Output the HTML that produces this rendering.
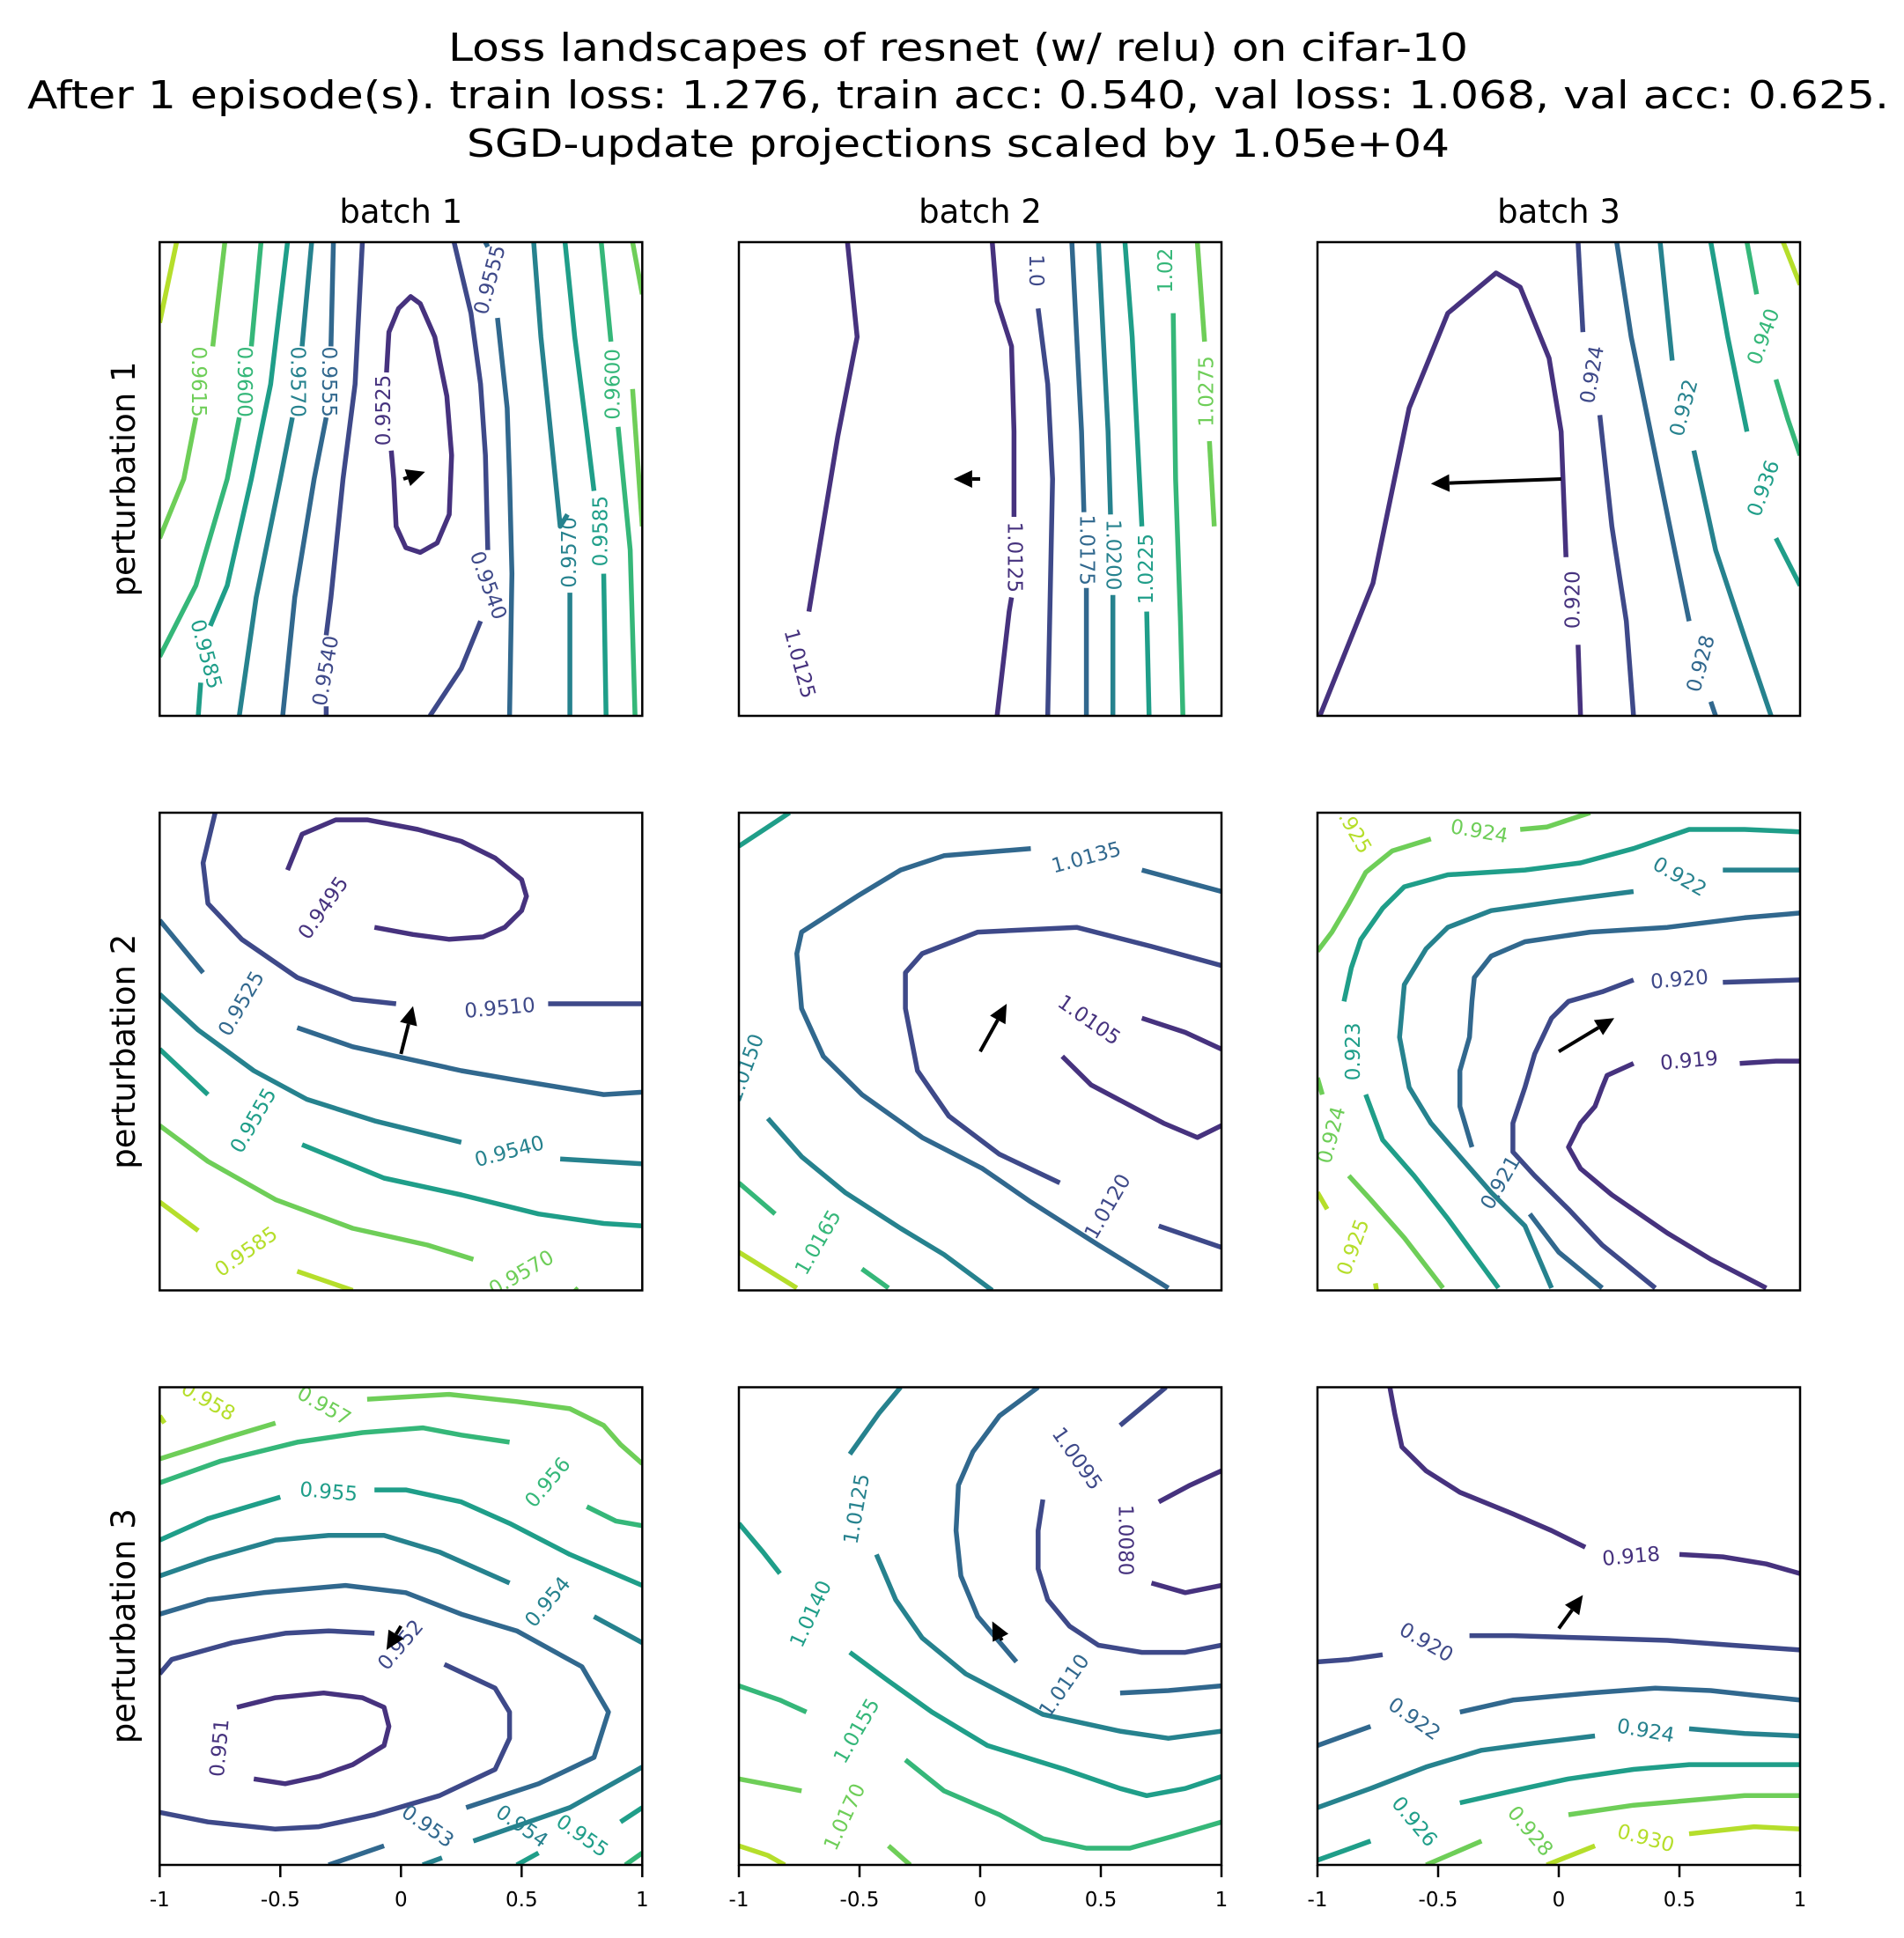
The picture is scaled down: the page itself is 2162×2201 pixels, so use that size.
<!DOCTYPE html>
<html><head><meta charset="utf-8"><style>
html,body{margin:0;padding:0;background:#fff;}
svg{display:block;font-family:"DejaVu Sans","Liberation Sans",sans-serif;}
</style></head><body>
<svg id="fig" width="2162" height="2201" viewBox="0 0 2162 2201" xmlns="http://www.w3.org/2000/svg">
<rect x="0" y="0" width="2162" height="2201" fill="#fff"/>
<g font-size="44" text-anchor="middle" fill="#000">
<text x="1088" y="69" textLength="1158" lengthAdjust="spacingAndGlyphs">Loss landscapes of resnet (w/ relu) on cifar-10</text>
<text x="1088" y="123" textLength="2114" lengthAdjust="spacingAndGlyphs">After 1 episode(s). train loss: 1.276, train acc: 0.540, val loss: 1.068, val acc: 0.625.</text>
<text x="1088" y="178" textLength="1116" lengthAdjust="spacingAndGlyphs">SGD-update projections scaled by 1.05e+04</text>
</g>
</svg>
<script>
const palette = ['#46327e','#3e4989','#31688e','#26828e','#1f9e89','#35b779','#6ece58','#b5de2b'];
const colTitles = ['batch 1','batch 2','batch 3'];
const rowTitles = ['perturbation 1','perturbation 2','perturbation 3'];
const xTicks = [-1,-0.5,0,0.5,1];
const xTickLabels = ['-1','-0.5','0','0.5','1'];

const lines11 = [
[7,-0.93,1,-1,0.66],
[6,-0.73,1,-0.78,0.56],[6,-0.85,0.26,-0.9,0,-1,-0.25],
[5,-0.58,1,-0.62,0.56],[5,-0.67,0.26,-0.72,0,-0.85,-0.45,-1,-0.75],
[4,-0.47,1,-0.54,0.4,-0.62,0,-0.72,-0.45,-0.79,-0.62],[4,-0.83,-0.86,-0.84,-1],
[3,-0.37,1,-0.41,0.56],[3,-0.45,0.26,-0.5,0,-0.6,-0.5,-0.67,-1],
[2,-0.28,1,-0.29,0.56],[2,-0.31,0.26,-0.36,0,-0.44,-0.5,-0.49,-1],
[1,-0.16,1,-0.19,0.4,-0.24,0,-0.29,-0.5,-0.31,-0.66],[1,-0.31,-0.96,-0.31,-1],
[0,-0.06,0.45,-0.05,0.62,-0.01,0.72,0.04,0.77,0.08,0.74,0.14,0.6,0.19,0.35,0.21,0.1,0.2,-0.15,0.15,-0.27,0.08,-0.31,0.02,-0.29,-0.02,-0.2,-0.03,0.0,-0.04,0.12],
[1,0.22,1,0.29,0.7,0.33,0.4,0.35,0.1,0.36,-0.3],[1,0.33,-0.6,0.25,-0.8,0.12,-1],
[2,0.35,1,0.36,0.98],[2,0.40,0.68,0.44,0.3,0.45,0,0.46,-0.4,0.45,-1],
[3,0.55,1,0.58,0.6,0.62,0.2,0.66,-0.2,0.69,-0.15],[3,0.70,-0.48,0.70,-1],
[4,0.68,1,0.72,0.6,0.77,0.2,0.8,-0.05],[4,0.84,-0.4,0.85,-1],
[5,0.83,1,0.87,0.58],[5,0.9,0.22,0.95,-0.3,0.97,-1],
[6,0.96,1,1,0.78],[6,0.96,0.38,1,-0.2]
];
const labels11 = [[-0.84,0.41,'0.9615',90,6],[-0.65,0.41,'0.9600',90,5],[-0.43,0.41,'0.9570',90,3],[-0.30,0.41,'0.9555',90,2],
[-0.07,0.29,'0.9525',-90,0],[0.37,0.84,'0.9555',-75,1],[0.36,-0.45,'0.9540',70,1],[0.70,-0.31,'0.9570',-90,3],[0.83,-0.22,'0.9585',-90,4],
[0.88,0.40,'0.9600',-90,5],[-0.81,-0.74,'0.9585',75,4],[-0.31,-0.81,'0.9540',-80,1]];
const arrow11 = [0.01,0.0,0.10,0.03];

const lines12 = [
[0,-0.55,1,-0.51,0.6,-0.59,0.18,-0.66,-0.25,-0.71,-0.56],
[0,0.05,1,0.07,0.75,0.13,0.56,0.14,0.2,0.14,-0.16],[0,0.13,-0.5,0.12,-0.56,0.07,-1],
[1,0.24,0.72,0.28,0.4,0.30,0,0.28,-1],
[2,0.38,1,0.40,0.6,0.42,0.2,0.43,-0.14],[2,0.44,-0.46,0.44,-1],
[3,0.49,1,0.51,0.6,0.53,0.2,0.54,-0.15],[3,0.55,-0.49,0.55,-1],
[4,0.60,1,0.63,0.6,0.65,0.2,0.67,-0.2],[4,0.69,-0.56,0.70,-1],
[5,0.80,0.7,0.81,0,0.83,-0.6,0.84,-1],
[6,0.90,1,0.93,0.58],[6,0.95,0.16,0.97,-0.2]
];
const labels12 = [[-0.75,-0.78,'1.0125',75,0],[0.14,-0.33,'1.0125',90,0],[0.23,0.88,'1.0',90,1],[0.44,-0.30,'1.0175',90,2],
[0.55,-0.32,'1.0200',90,3],[0.69,-0.38,'1.0225',-90,4],[0.77,0.88,'1.02',-90,5],[0.94,0.37,'1.0275',-90,6]];
const arrow12 = [0,0,-0.11,0];

const lines13 = [
[0,-0.99,-1,-0.77,-0.44,-0.62,0.30,-0.46,0.70,-0.26,0.87,-0.16,0.81,-0.04,0.51,0.01,0.20,0.03,-0.33],[0,0.08,-0.70,0.09,-1],
[1,0.08,1,0.10,0.62],[1,0.17,0.27,0.22,-0.2,0.28,-0.6,0.31,-1],
[2,0.24,1,0.30,0.6,0.38,0.2,0.46,-0.2,0.54,-0.6],[2,0.63,-0.94,0.65,-1],
[3,0.42,1,0.47,0.5],[3,0.56,0.12,0.65,-0.3,0.78,-0.7,0.88,-1],
[4,0.63,1,0.70,0.6,0.78,0.2],[4,0.90,-0.25,1,-0.45],
[5,0.78,1,0.82,0.78],[5,0.9,0.42,0.95,0.25,1,0.1],
[7,0.93,1,1,0.82]
];
const labels13 = [[0.06,-0.51,'0.920',-90,0],[0.14,0.44,'0.924',-80,1],[0.59,-0.78,'0.928',-75,2],[0.52,0.30,'0.932',-75,3],
[0.85,-0.04,'0.936',-70,4],[0.85,0.60,'0.940',-70,5]];
const arrow13 = [0.01,0.0,-0.53,-0.02];

const lines21 = [
[0,-0.47,0.76,-0.41,0.91,-0.27,0.97,-0.14,0.97,0.07,0.93,0.25,0.88,0.39,0.81,0.50,0.72,0.52,0.65,0.50,0.59,0.43,0.52,0.34,0.48,0.20,0.47,0.05,0.49,-0.11,0.52],
[1,-0.77,1,-0.82,0.79,-0.80,0.62,-0.66,0.47,-0.43,0.31,-0.20,0.22,-0.02,0.20],[1,0.61,0.20,1,0.20],
[2,-1,0.55,-0.82,0.33],[2,-0.43,0.10,-0.2,0.02,0.25,-0.08,0.48,-0.12,0.84,-0.18,1,-0.17],
[3,-1,0.24,-0.84,0.09,-0.61,-0.08,-0.39,-0.20,-0.11,-0.29,0.25,-0.38],[3,0.66,-0.45,1,-0.47],
[4,-1,0.01,-0.80,-0.18],[4,-0.41,-0.39,-0.07,-0.53,0.25,-0.60,0.57,-0.68,0.84,-0.72,1,-0.73],
[6,-1,-0.31,-0.80,-0.46,-0.52,-0.62,-0.20,-0.74,0.11,-0.81,0.30,-0.87],[6,0.72,-0.99,0.73,-1],
[7,-1,-0.63,-0.84,-0.75],[7,-0.43,-0.92,-0.2,-1]
];
const labels21 = [[-0.32,0.60,'0.9495',-55,0],[0.41,0.18,'0.9510',-5,1],[-0.66,0.20,'0.9525',-60,2],[0.45,-0.42,'0.9540',-15,3],
[-0.61,-0.29,'0.9555',-60,4],[0.5,-0.93,'0.9570',-30,6],[-0.64,-0.84,'0.9585',-35,7]];
const arrow21 = [0,-0.01,0.05,0.19];

const lines22 = [
[4,-1,0.86,-0.79,1],
[0,0.67,0.14,0.85,0.08,1,0.01],[0,0.34,-0.02,0.46,-0.14,0.76,-0.30,0.90,-0.36,1,-0.31],
[1,1,0.36,0.71,0.44,0.40,0.52,-0.01,0.50,-0.24,0.41,-0.31,0.33,-0.31,0.18,-0.26,-0.08,-0.13,-0.27,0.08,-0.43,0.33,-0.55],[1,0.74,-0.73,1,-0.82],
[2,1,0.67,0.67,0.76],[2,0.21,0.85,-0.15,0.82,-0.33,0.76,-0.51,0.65,-0.74,0.50,-0.76,0.41,-0.74,0.18,-0.65,-0.02,-0.49,-0.18,-0.24,-0.36,0.01,-0.49,0.21,-0.63,0.49,-0.81,0.78,-0.99],
[3,-0.88,-0.28,-0.74,-0.44,-0.56,-0.59,-0.33,-0.74,-0.15,-0.85,0.05,-1],
[5,-1,-0.55,-0.85,-0.68],[5,-0.49,-0.91,-0.38,-0.99],
[7,-1,-0.84,-0.76,-0.99]
];
const labels22 = [[0.45,0.13,'1.0105',35,0],[0.53,-0.65,'1.0120',-60,1],[0.44,0.81,'1.0135',-15,2],[-0.97,-0.07,'1.0150',-70,3],[-0.67,-0.80,'1.0165',-60,5]];
const arrow22 = [0,0,0.11,0.20];

const lines23 = [
[0,1,-0.04,0.90,-0.04,0.75,-0.05],[0,0.31,-0.05,0.20,-0.10,0.18,-0.15,0.15,-0.23,0.09,-0.30,0.04,-0.40,0.09,-0.49,0.22,-0.60,0.45,-0.76,0.63,-0.87,0.86,-0.99],
[1,1,0.30,0.68,0.29],[1,0.31,0.30,0.18,0.25,0.04,0.21,-0.03,0.14,-0.10,-0.01,-0.14,-0.15,-0.19,-0.30,-0.19,-0.42,-0.10,-0.52,0.04,-0.66,0.18,-0.81,0.40,-0.99],
[2,1,0.58,0.77,0.56,0.45,0.52,0.13,0.50,-0.14,0.46,-0.28,0.40,-0.35,0.31,-0.36,0.21,-0.37,0.06,-0.41,-0.08,-0.41,-0.23,-0.36,-0.40],[2,-0.12,-0.68,0,-0.84,0.18,-0.99],
[3,1,0.76,0.68,0.76],[3,0.31,0.67,0,0.63,-0.28,0.59,-0.46,0.52,-0.55,0.43,-0.64,0.28,-0.66,0.06,-0.62,-0.15,-0.53,-0.30,-0.41,-0.44,-0.28,-0.59,-0.14,-0.73,-0.03,-0.99],
[4,1,0.92,0.77,0.93,0.54,0.93,0.31,0.85,0.09,0.79,-0.14,0.76,-0.46,0.74,-0.64,0.69,-0.73,0.60,-0.82,0.47,-0.86,0.35,-0.89,0.21],[4,-0.80,-0.18,-0.73,-0.37,-0.60,-0.52,-0.46,-0.70,-0.25,-0.99],
[6,0.13,1,-0.05,0.94,-0.16,0.93],[6,-0.53,0.89,-0.69,0.84,-0.80,0.75,-0.87,0.62,-0.94,0.50,-1,0.42],[6,-1,-0.11,-0.98,-0.18],[6,-0.87,-0.52,-0.78,-0.62,-0.64,-0.78,-0.48,-0.99],
[7,-1,-0.59,-0.96,-0.66],[7,-0.76,-0.97,-0.755,-1]
];
const labels23 = [[0.54,-0.04,'0.919',-5,0],[0.50,0.30,'0.920',-5,1],[-0.24,-0.55,'0.921',-60,2],[0.50,0.73,'0.922',30,3],
[-0.85,0.0,'0.923',-90,4],[-0.33,0.92,'0.924',10,6],[-0.94,-0.35,'0.924',-75,6],[-0.86,0.94,'0.925',60,7],[-0.85,-0.82,'0.925',-70,7]];
const arrow23 = [0,0,0.23,0.14];

const lines31 = [
[0,-0.68,-0.34,-0.52,-0.30,-0.32,-0.28,-0.16,-0.30,-0.07,-0.34,-0.05,-0.42,-0.07,-0.50,-0.20,-0.58,-0.34,-0.63,-0.48,-0.66,-0.61,-0.64],
[1,-0.11,-0.03,-0.30,-0.02,-0.48,-0.03,-0.70,-0.07,-0.95,-0.14,-1,-0.20],[1,-1,-0.78,-0.80,-0.82,-0.52,-0.85,-0.34,-0.84,-0.11,-0.79,0.16,-0.71,0.39,-0.60,0.45,-0.47,0.45,-0.36,0.39,-0.26,0.18,-0.16],
[2,-1,0.05,-0.80,0.11,-0.57,0.14,-0.23,0.17,0.02,0.14,0.25,0.05,0.48,-0.02,0.75,-0.17,0.86,-0.36,0.80,-0.55,0.57,-0.66,0.27,-0.76],[2,-0.07,-0.92,-0.30,-1],
[3,-1,0.21,-0.80,0.28,-0.52,0.36,-0.30,0.38,-0.07,0.38,0.16,0.31,0.45,0.18],[3,0.80,0.04,1,-0.07],[3,1,-0.59,0.70,-0.76,0.30,-0.90],[3,0.17,-0.97,0.09,-1],
[4,-1,0.36,-0.80,0.45,-0.50,0.54],[4,-0.11,0.57,0.02,0.57,0.25,0.52,0.45,0.43,0.70,0.30,1,0.17],[4,1,-0.76,0.91,-0.82],[4,0.57,-0.95,0.48,-1],
[5,-1,0.60,-0.75,0.69,-0.43,0.77,-0.16,0.81,0.09,0.83,0.25,0.80,0.45,0.77],[5,0.77,0.50,0.89,0.44,1,0.42],[5,1,-0.95,0.93,-1],
[6,-1,0.70,-0.75,0.78,-0.52,0.85],[6,-0.14,0.95,0.20,0.97,0.48,0.94,0.70,0.91,0.84,0.84,0.91,0.76,1,0.68],
[7,-1,0.88,-0.98,0.85]
];
const labels31 = [[-0.80,0.94,'0.958',30,7],[-0.32,0.92,'0.957',30,6],[-0.30,0.56,'0.955',5,4],[0.61,0.60,'0.956',-50,5],
[0.61,0.10,'0.954',-50,3],[0.0,-0.08,'0.952',-50,1],[-0.75,-0.51,'0.951',-85,0],[0.11,-0.84,'0.953',35,2],[0.5,-0.84,'0.954',35,3],[0.75,-0.88,'0.955',35,4]];
const arrow31 = [0.0,0.0,-0.06,-0.10];

const lines32 = [
[0,1,0.65,0.87,0.59,0.74,0.52],[0,0.71,0.18,0.85,0.14,1,0.17],
[1,0.77,1,0.58,0.84],[1,0.26,0.53,0.24,0.40,0.24,0.24,0.28,0.11,0.37,0,0.49,-0.08,0.67,-0.11,0.85,-0.11,1,-0.08],
[2,0.24,1,0.08,0.88,-0.03,0.73,-0.09,0.59,-0.10,0.40,-0.08,0.21,-0.01,0.04,0.15,-0.15],[2,0.58,-0.28,0.78,-0.27,1,-0.25],
[3,-0.33,1,-0.42,0.89,-0.54,0.72],[3,-0.43,0.30,-0.35,0.11,-0.24,-0.05,-0.06,-0.20,0.26,-0.37,0.58,-0.44,0.78,-0.47,1,-0.44],
[4,-1,0.43,-0.90,0.31,-0.83,0.22],[4,-0.54,-0.11,-0.38,-0.23,-0.20,-0.36,0.03,-0.50,0.35,-0.60,0.58,-0.68,0.69,-0.71,0.85,-0.68,1,-0.63],
[5,-1,-0.25,-0.83,-0.31,-0.72,-0.36],[5,-0.31,-0.56,-0.15,-0.69,0.08,-0.79,0.26,-0.89,0.44,-0.93,0.62,-0.93,0.80,-0.88,1,-0.82],
[6,-1,-0.64,-0.74,-0.69],[6,-0.38,-0.92,-0.29,-1],
[7,-1,-0.92,-0.88,-0.96,-0.81,-1]
];
const labels32 = [[0.40,0.70,'1.0095',55,1],[0.60,0.36,'1.0080',90,0],[-0.51,0.49,'1.0125',-80,3],[-0.70,0.05,'1.0140',-65,4],
[0.35,-0.25,'1.0110',-55,2],[-0.51,-0.44,'1.0155',-60,5],[-0.56,-0.80,'1.0170',-65,6]];
const arrow32 = [0.09,-0.06,0.05,0.02];

const lines33 = [
[0,-0.70,1,-0.68,0.89,-0.65,0.75,-0.55,0.65,-0.41,0.56,-0.19,0.47,-0.03,0.40,0.11,0.33],[0,0.50,0.30,0.68,0.29,0.86,0.26,1,0.22],
[1,-1,-0.15,-0.87,-0.14,-0.73,-0.12],[1,-0.37,-0.04,-0.19,-0.04,0.13,-0.05,0.45,-0.06,0.72,-0.08,1,-0.10],
[2,-1,-0.50,-0.78,-0.42],[2,-0.41,-0.36,-0.19,-0.31,0.13,-0.28,0.40,-0.26,0.63,-0.27,0.81,-0.29,1,-0.31],
[3,-1,-0.76,-0.78,-0.68,-0.55,-0.59,-0.32,-0.52,-0.10,-0.49,0.15,-0.46],[3,0.54,-0.43,0.77,-0.45,1,-0.46],
[4,-1,-0.98,-0.78,-0.90],[4,-0.41,-0.74,-0.19,-0.69,0.04,-0.64,0.31,-0.60,0.54,-0.58,1,-0.58],
[6,-0.55,-1,-0.32,-0.90],[6,0.04,-0.79,0.31,-0.75,0.54,-0.73,0.77,-0.71,1,-0.71],
[7,-0.05,-1,0.15,-0.92],[7,0.54,-0.87,0.81,-0.84,1,-0.85]
];
const labels33 = [[0.30,0.29,'0.918',-5,0],[-0.55,-0.07,'0.920',30,1],[-0.60,-0.39,'0.922',35,2],[0.36,-0.44,'0.924',10,3],
[-0.60,-0.82,'0.926',50,4],[-0.12,-0.86,'0.928',50,6],[0.36,-0.89,'0.930',15,7]];
const arrow33 = [0,-0.01,0.10,0.13];

const panels = [
[lines11,labels11,arrow11],[lines12,labels12,arrow12],[lines13,labels13,arrow13],
[lines21,labels21,arrow21],[lines22,labels22,arrow22],[lines23,labels23,arrow23],
[lines31,labels31,arrow31],[lines32,labels32,arrow32],[lines33,labels33,arrow33]];

const NS='http://www.w3.org/2000/svg';
const svg=document.getElementById('fig');
const X0=[181.3,839,1496], W=548;
const Y0=[275,923,1575.5], HS=[538,542.5,542.5];
function sx(c,x){return X0[c]+(x+1)/2*W;}
function sy(r,y){return Y0[r]+(1-y)/2*HS[r];}
function mk(tag,attrs,parent){const e=document.createElementNS(NS,tag);for(const k in attrs)e.setAttribute(k,attrs[k]);(parent||svg).appendChild(e);return e;}

for(let c=0;c<3;c++){
  const t=mk('text',{x:X0[c]+W/2,y:253,'font-size':37,'text-anchor':'middle',fill:'#000'});
  
  
  t.textContent=colTitles[c];
}
for(let r=0;r<3;r++){
  const cy=Y0[r]+HS[r]/2;
  const t=mk('text',{x:0,y:0,'font-size':37,'text-anchor':'middle',fill:'#000',transform:'translate(153,'+cy+') rotate(-90)'});
  
  
  t.textContent=rowTitles[r];
}

panels.forEach((p,i)=>{
  const r=Math.floor(i/3), c=i%3;
  const H=HS[r];
  const g=mk('g',{});
  
  
  const cp=mk('clipPath',{id:'clip'+i},g);
  mk('rect',{x:X0[c],y:Y0[r],width:W,height:H},cp);
  const lg=mk('g',{'clip-path':'url(#clip'+i+')'},g);
  p[0].forEach(seg=>{
    let d='';
    for(let k=1;k<seg.length;k+=2){d+=(k===1?'M':'L')+sx(c,seg[k]).toFixed(1)+' '+sy(r,seg[k+1]).toFixed(1);}
    const pe=mk('path',{d:d,fill:'none',stroke:palette[seg[0]],'stroke-width':5.5,'stroke-linejoin':'round','stroke-linecap':'butt'},lg);
    
    
  });
  p[1].forEach(L=>{
    const X=sx(c,L[0]),Y=sy(r,L[1]);
    const t=mk('text',{x:0,y:0,'font-size':23,'text-anchor':'middle','dominant-baseline':'central',fill:palette[L[4]],transform:'translate('+X.toFixed(1)+','+Y.toFixed(1)+') rotate('+L[3]+')'},lg);
    
    
    t.textContent=L[2];
  });
  const a=p[2];
  const x1=sx(c,a[0]),y1=sy(r,a[1]),x2=sx(c,a[2]),y2=sy(r,a[3]);
  const dx=x2-x1,dy=y2-y1,len=Math.hypot(dx,dy),ux=dx/len,uy=dy/len;
  const hl=21,hw=10;
  const bx=x2-ux*hl,by=y2-uy*hl;
  const ag=mk('g',{},g);
  
  
  if(len>hl) mk('line',{x1:x1,y1:y1,x2:bx,y2:by,stroke:'#000','stroke-width':4},ag);
  else mk('line',{x1:x2-ux*(hl+6),y1:y2-uy*(hl+6),x2:bx,y2:by,stroke:'#000','stroke-width':4},ag);
  mk('polygon',{points:x2+','+y2+' '+(bx-uy*hw)+','+(by+ux*hw)+' '+(bx+uy*hw)+','+(by-ux*hw),fill:'#000'},ag);
  const fr=mk('rect',{x:X0[c],y:Y0[r],width:W,height:H,fill:'none',stroke:'#000','stroke-width':2.5},g);
  
  
  if(r===2){
    xTicks.forEach((v,k)=>{
      const X=sx(c,v);
      const tk=mk('line',{x1:X,y1:Y0[r]+H,x2:X,y2:Y0[r]+H+14,stroke:'#000','stroke-width':2.5},g);
      
      
      const tl=mk('text',{x:X,y:2165,'font-size':23,'text-anchor':'middle',fill:'#000'},g);
      
      
      tl.textContent=xTickLabels[k];
    });
  }
});
</script>
</body></html>
